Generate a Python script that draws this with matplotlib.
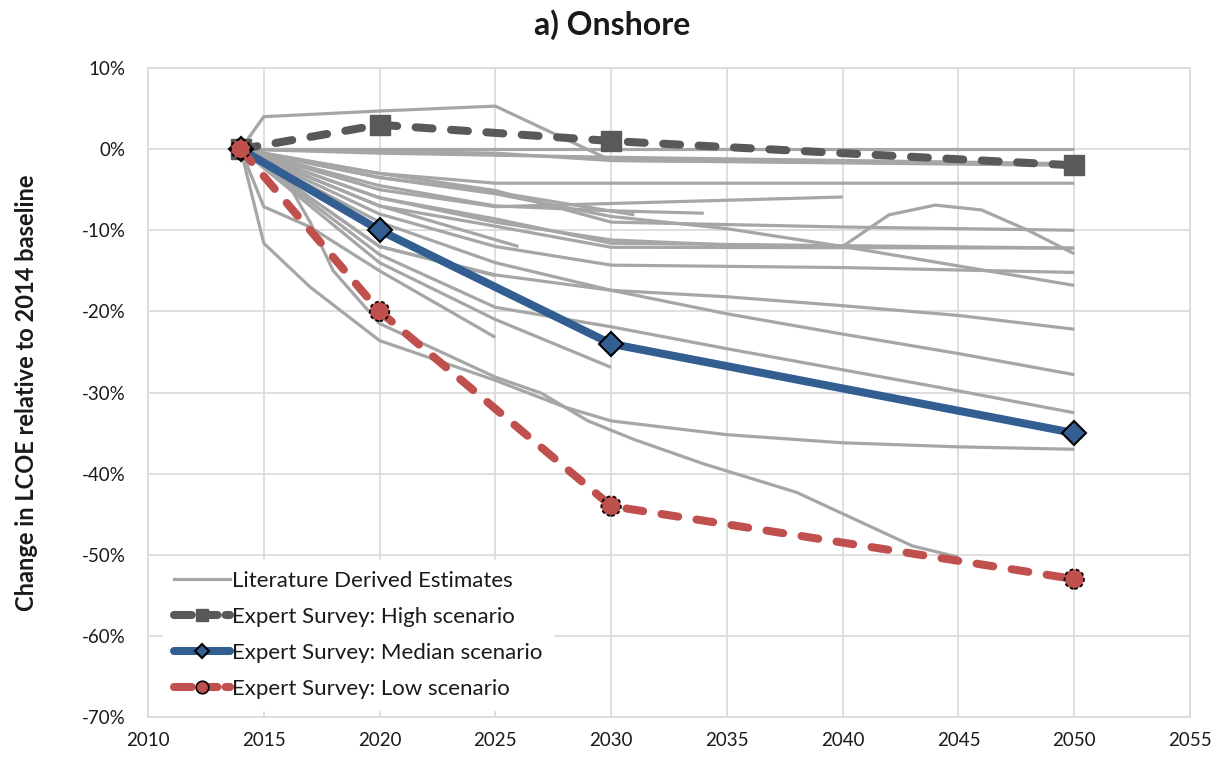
import matplotlib
matplotlib.use("Agg")
import matplotlib.pyplot as plt
from matplotlib.lines import Line2D
from matplotlib.ticker import FixedLocator

plt.rcParams['font.family'] = ['Lato', 'DejaVu Sans']

# ---------------- data ----------------
lit_years = [
    [2014, 2015, 2020, 2025, 2030, 2040, 2050],
    [2014, 2020, 2030, 2040, 2050],
    [2014, 2020, 2030, 2040, 2050],
    [2014, 2025, 2030, 2050],
    [2014, 2020, 2025, 2050],
    [2014, 2020, 2025, 2030, 2040],
    [2014, 2020, 2025, 2031],
    [2014, 2020, 2025, 2030, 2034],
    [2014, 2020, 2026],
    [2014, 2020, 2025, 2030, 2035, 2040, 2042, 2044, 2046, 2048, 2050],
    [2014, 2020, 2025, 2030, 2040, 2050],
    [2014, 2020, 2025, 2030, 2035, 2040, 2050],
    [2014, 2020, 2025, 2030, 2050],
    [2014, 2020, 2025, 2030, 2050],
    [2014, 2020, 2025, 2030, 2040, 2050],
    [2014, 2020, 2025, 2030, 2035, 2040, 2045, 2050],
    [2014, 2020, 2025, 2030, 2035, 2040, 2045, 2050],
    [2014, 2020, 2025, 2030, 2035, 2040, 2045, 2050],
    [2014, 2020, 2025, 2030],
    [2014, 2015, 2017, 2020, 2025],
    [2014, 2020, 2025],
    [2014, 2016, 2017, 2018, 2020, 2025, 2027, 2029, 2031, 2034, 2038, 2043, 2045],
    [2014, 2015, 2017, 2020, 2025, 2028, 2030, 2035, 2040, 2045, 2050],
]
lit_values = [
    [0, 4.0, 4.7, 5.3, -1.4, -1.6, -1.9],
    [0, 0, 0, 0, 0],
    [0, -0.5, -1.0, -1.4, -1.8],
    [0, -0.5, -1.4, -2.0],
    [0, -3.0, -4.2, -4.2],
    [0, -5.0, -7.1, -6.7, -5.9],
    [0, -3.5, -5.3, -8.1],
    [0, -4.5, -7.0, -7.6, -7.9],
    [0, -7.0, -12.0],
    [0, -6.0, -9.0, -11.2, -11.8, -12.0, -8.1, -6.9, -7.5, -10.0, -12.9],
    [0, -3.0, -5.1, -9.0, -9.6, -10.0],
    [0, -3.5, -5.5, -8.3, -9.8, -12.0, -16.8],
    [0, -7.0, -9.5, -12.1, -12.2],
    [0, -6.0, -8.6, -11.6, -12.2],
    [0, -8.0, -12.0, -14.3, -14.6, -15.2],
    [0, -9.0, -14.0, -17.4, -18.2, -19.3, -20.5, -22.2],
    [0, -12.0, -15.5, -17.4, -20.3, -22.8, -25.2, -27.8],
    [0, -13.0, -19.5, -21.9, -24.6, -27.2, -29.8, -32.5],
    [0, -14.0, -21.0, -26.9],
    [0, -7.1, -9.6, -15.0, -23.2],
    [0, -12.0, -15.6],
    [0, -4.0, -9.0, -15.0, -21.5, -28.1, -30.1, -33.5, -35.8, -38.8, -42.3, -48.9, -50.3],
    [0, -11.6, -17.0, -23.6, -28.5, -31.8, -33.5, -35.2, -36.2, -36.7, -37.0],
]

survey_years = [2014, 2020, 2030, 2050]
high_values = [0, 3, 1, -2]
median_values = [0, -10, -24, -35]
low_values = [0, -20, -44, -53]

x_ticks = [2010, 2015, 2020, 2025, 2030, 2035, 2040, 2045, 2050, 2055]
y_ticks = [10, 0, -10, -20, -30, -40, -50, -60, -70]
y_tick_labels = ["10%", "0%", "-10%", "-20%", "-30%", "-40%", "-50%", "-60%", "-70%"]

title = "a) Onshore"
y_label = "Change in LCOE relative to 2014 baseline"
lbl_lit = "Literature Derived Estimates"
lbl_high = "Expert Survey: High scenario"
lbl_med = "Expert Survey: Median scenario"
lbl_low = "Expert Survey: Low scenario"

# ---------------- style ----------------
GRAY = "#a6a6a6"
DARK = "#595959"
BLUE = "#335e91"
RED = "#c0504d"
GRID = "#d9d9d9"
TXT = "#1a1a1a"

fig = plt.figure(figsize=(12.24, 7.61), dpi=100)
ax = fig.add_axes([148 / 1224, 1 - 717 / 761, (1190 - 148) / 1224, (717 - 68) / 761])

for yrs, vals in zip(lit_years, lit_values):
    ax.plot(yrs, vals, color=GRAY, lw=2.3, solid_joinstyle='round',
            solid_capstyle='butt', zorder=2)

ax.plot(survey_years, high_values, color=DARK, lw=5.8,
        dashes=(2.1, 2.3), dash_capstyle='round',
        marker='s', markersize=14, markerfacecolor=DARK,
        markeredgecolor=DARK, zorder=4)
ax.plot(survey_years, median_values, color=BLUE, lw=5.8,
        solid_capstyle='round',
        marker='D', markersize=12, markerfacecolor=BLUE,
        markeredgecolor='black', markeredgewidth=1.5, zorder=5)
ax.plot(survey_years, low_values, color=RED, lw=5.8,
        dashes=(2.1, 2.3), dash_capstyle='round', zorder=6)
ax.scatter(survey_years, low_values, s=196, c=RED,
           edgecolors='black', linewidths=1.3, linestyles=(0, (2, 1.5)),
           zorder=7)

ax.set_xlim(2010, 2055)
ax.set_ylim(-70, 10)
ax.xaxis.set_major_locator(FixedLocator(x_ticks))
ax.set_xticklabels([str(v) for v in x_ticks])
ax.set_yticks(y_ticks)
ax.set_yticklabels(y_tick_labels)
ax.tick_params(axis='both', length=0, labelsize=13.5, labelcolor=TXT)
ax.tick_params(axis='y', pad=16)
ax.tick_params(axis='x', pad=11)
ax.grid(True, color=GRID, lw=1.2, zorder=0)
ax.set_axisbelow(True)
for sp in ax.spines.values():
    sp.set_color(GRID)
    sp.set_linewidth(1.2)

fig.suptitle(title, x=0.5, y=0.988, fontsize=23, fontweight='bold', color=TXT)
ax.set_ylabel(y_label, fontsize=17, fontweight='bold', color=TXT)
ax.yaxis.set_label_coords(-0.106, 0.5)

h_lit = Line2D([], [], color=GRAY, lw=2.3)
h_high = Line2D([], [], color=DARK, lw=5.8, dashes=(2.2, 1.0), dash_capstyle='round',
                marker='s', markersize=8, markerfacecolor=DARK, markeredgecolor=DARK)
h_med = Line2D([], [], color=BLUE, lw=5.8, solid_capstyle='round',
               marker='D', markersize=7, markerfacecolor=BLUE,
               markeredgecolor='black', markeredgewidth=1.5)
h_low = Line2D([], [], color=RED, lw=5.8, dashes=(2.2, 1.0), dash_capstyle='round',
               marker='o', markersize=9, markerfacecolor=RED,
               markeredgecolor='black', markeredgewidth=1.2)

leg = ax.legend([h_lit, h_high, h_med, h_low], [lbl_lit, lbl_high, lbl_med, lbl_low],
                loc='lower left', bbox_to_anchor=(0.008, 0.0), frameon=True,
                fancybox=False, framealpha=1.0, edgecolor='white',
                fontsize=16, handlelength=2.5, handletextpad=0.1,
                labelspacing=0.72, borderpad=0.5, borderaxespad=0.3,
                numpoints=1)
for t in leg.get_texts():
    t.set_color(TXT)
leg.set_zorder(10)

fig.savefig("out.png", dpi=100, facecolor='white')
